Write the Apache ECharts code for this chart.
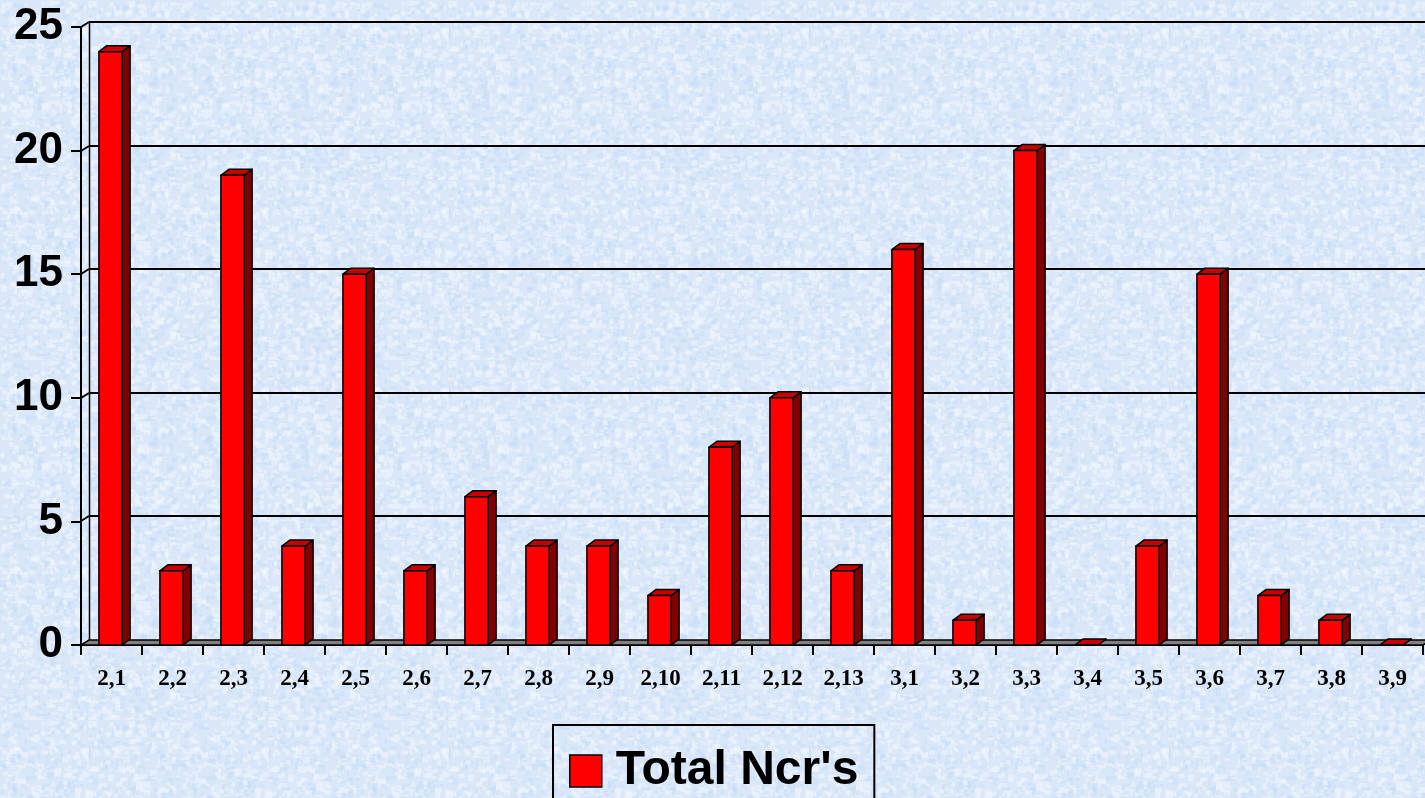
<!DOCTYPE html>
<html>
<head>
<meta charset="utf-8">
<title>Total Ncr's</title>
<script src="https://cdn.jsdelivr.net/npm/echarts@6/dist/echarts.min.js"></script>
<style>
  html, body { margin: 0; padding: 0; }
  #chart { width: 1425px; height: 798px; }
</style>
</head>
<body>
<div id="chart"></div>
<script>
// data
var categories = ['2,1', '2,2', '2,3', '2,4', '2,5', '2,6', '2,7', '2,8', '2,9', '2,10', '2,11',
  '2,12', '2,13', '3,1', '3,2', '3,3', '3,4', '3,5', '3,6', '3,7', '3,8', '3,9'];
var totalNcrs = [24, 3, 19, 4, 15, 3, 6, 4, 4, 2, 8, 10, 3, 16, 1, 20, 0, 4, 15, 2, 1, 0];
var yTicks = [0, 5, 10, 15, 20, 25];
var seriesName = "Total Ncr's";

// depth of the fake 3d
var DX = 8, DY = 5;

// mottled blue paper background (seeded, just decoration)
function makeTexture() {
  var size = 180;
  var c = document.createElement('canvas');
  c.width = c.height = size;
  var ctx = c.getContext('2d');
  ctx.fillStyle = '#d9e7f9';
  ctx.fillRect(0, 0, size, size);
  var s = 12345;
  function rnd() { s = (s * 16807) % 2147483647; return s / 2147483647; }
  for (var i = 0; i < 1400; i++) {
    var light = rnd() < 0.6;
    ctx.fillStyle = light ? 'rgba(240,245,253,0.55)' : 'rgba(198,220,246,0.45)';
    ctx.fillRect(rnd() * size, rnd() * size, 2 + rnd() * 5, 2 + rnd() * 4);
  }
  return c;
}

var myChart = echarts.init(document.getElementById('chart'));

function renderFrame(params, api) {
  var cs = params.coordSys;
  var v = api.value(1);
  var y = Math.round(api.coord([0, v])[1]);
  var left = Math.round(cs.x);
  var right = Math.round(cs.x + cs.width);
  var lineStyle = { stroke: '#000', lineWidth: 2 };
  var children = [];
  if (v === 0) {
    children.push({
      type: 'polygon',
      shape: { points: [[left, y], [right, y], [right + DX, y - DY], [left + DX, y - DY]] },
      style: { fill: '#808080', stroke: '#000', lineWidth: 1.5 }
    });
    children.push({
      type: 'line',
      shape: { x1: left + DX + 0.5, y1: y - DY, x2: left + DX + 0.5, y2: Math.round(cs.y) - DY },
      style: { stroke: '#000', lineWidth: 1.5 }
    });
  } else {
    children.push({
      type: 'line',
      shape: { x1: left, y1: y, x2: left + DX, y2: y - DY },
      style: lineStyle
    });
    children.push({
      type: 'line',
      shape: { x1: left + DX, y1: y - DY, x2: right + DX, y2: y - DY },
      style: lineStyle
    });
  }
  return { type: 'group', children: children };
}

function renderBar(params, api) {
  var idx = api.value(0);
  var val = api.value(1);
  var top = api.coord([idx, val]);
  var base = api.coord([idx, 0]);
  var band = api.size([1, 0])[0];
  var w = band * 0.38;
  var x0 = top[0] - w / 2 - 1;
  var x1 = x0 + w;
  var ty = top[1], by = base[1];
  var dy = 6;
  var border = { stroke: '#000', lineWidth: 1.5, lineJoin: 'round' };
  return {
    type: 'group',
    children: [
      {
        type: 'polygon',
        shape: { points: [[x1, ty], [x1 + DX, ty - dy], [x1 + DX, by - dy], [x1, by]] },
        style: Object.assign({ fill: '#800000' }, border)
      },
      {
        type: 'polygon',
        shape: { points: [[x0, ty], [x0 + DX, ty - dy], [x1 + DX, ty - dy], [x1, ty]] },
        style: Object.assign({ fill: '#c80000' }, border)
      },
      {
        type: 'rect',
        shape: { x: x0, y: ty, width: w, height: by - ty },
        style: Object.assign({ fill: '#ff0000' }, border)
      }
    ]
  };
}

var option = {
  backgroundColor: { image: makeTexture(), repeat: 'repeat' },
  animation: false,
  grid: {
    left: 81,
    right: 2,
    top: 27,
    bottom: 153
  },
  legend: {
    data: [seriesName],
    left: 553,
    top: 725,
    padding: [22, 16, 30, 16],
    borderColor: '#000',
    borderWidth: 2,
    itemWidth: 32,
    itemHeight: 32,
    icon: 'rect',
    itemStyle: { color: '#ff0000', borderColor: '#000', borderWidth: 1.5 },
    textStyle: {
      fontFamily: 'Liberation Sans',
      fontWeight: 'bold',
      fontSize: 48,
      color: '#000',
      padding: [0, 0, 0, 9]
    }
  },
  xAxis: {
    type: 'category',
    data: categories,
    axisLine: { lineStyle: { color: '#000', width: 2 } },
    axisTick: { show: true, length: 10, lineStyle: { color: '#000', width: 2 } },
    axisLabel: {
      interval: 0,
      margin: 23,
      fontFamily: 'Liberation Serif',
      fontWeight: 'bold',
      fontSize: 23,
      color: '#000'
    }
  },
  yAxis: {
    type: 'value',
    min: 0,
    max: yTicks[yTicks.length - 1],
    interval: 5,
    axisLine: { show: true, lineStyle: { color: '#000', width: 2 } },
    axisTick: { show: true, length: 10, lineStyle: { color: '#000', width: 2 } },
    splitLine: { show: false },
    axisLabel: {
      margin: 18,
      fontFamily: 'Liberation Sans',
      fontWeight: 'bold',
      fontSize: 44,
      color: '#000'
    }
  },
  series: [
    {
      type: 'custom',
      name: 'frame',
      z: 1,
      silent: true,
      clip: false,
      renderItem: renderFrame,
      data: yTicks.map(function (v) { return [0, v]; })
    },
    {
      type: 'custom',
      name: seriesName,
      z: 3,
      clip: false,
      itemStyle: { color: '#ff0000' },
      renderItem: renderBar,
      encode: { x: 0, y: 1 },
      data: totalNcrs.map(function (v, i) { return [i, v]; })
    }
  ]
};

myChart.setOption(option);
</script>
</body>
</html>
